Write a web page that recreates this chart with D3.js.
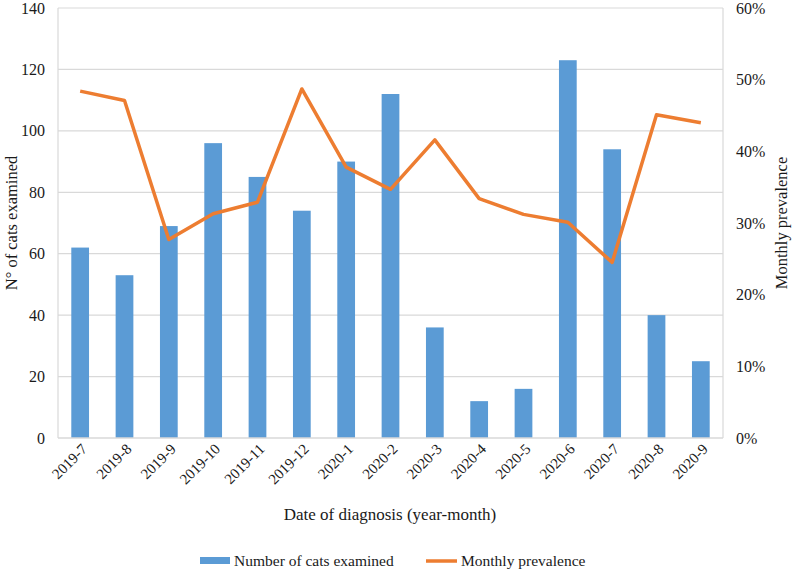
<!DOCTYPE html>
<html><head><meta charset="utf-8">
<script src="https://cdn.jsdelivr.net/npm/d3@7"></script>
<style>body{margin:0;background:#fff}svg{display:block}</style>
</head><body><div id="chart"></div>
<script>
const categories = ["2019-7","2019-8","2019-9","2019-10","2019-11","2019-12","2020-1","2020-2","2020-3","2020-4","2020-5","2020-6","2020-7","2020-8","2020-9"];
const catsExamined = [62,53,69,96,85,74,90,112,36,12,16,123,94,40,25];
const prevalence = [48.4,47.1,27.7,31.3,32.9,48.7,37.8,34.7,41.6,33.4,31.2,30.1,24.5,45.1,44.0];
const leftTicks = [0,20,40,60,80,100,120,140];
const rightTicks = [0,10,20,30,40,50,60];

const FONT = "'Liberation Serif', Tinos, 'Times New Roman', 'DejaVu Serif', serif";
const W = 797, H = 571;
const m = {left: 58, right: 723, top: 8, bottom: 438};
const svg = d3.select("#chart").append("svg").attr("width", W).attr("height", H)
  .attr("font-family", FONT);

const x = d3.scaleBand().domain(categories).range([m.left, m.right]).paddingInner(0.6).paddingOuter(0.3);
const y = d3.scaleLinear().domain([0,140]).range([m.bottom, m.top]);
const y2 = d3.scaleLinear().domain([0,60]).range([m.bottom, m.top]);

svg.append("g").selectAll("line").data(leftTicks.slice(1)).join("line")
  .attr("x1", m.left).attr("x2", m.right).attr("y1", d=>y(d)).attr("y2", d=>y(d))
  .attr("stroke", "#d9d9d9").attr("stroke-width", 1.2);
svg.append("line").attr("x1", m.left).attr("x2", m.left).attr("y1", m.top).attr("y2", m.bottom).attr("stroke","#d9d9d9").attr("stroke-width",1.2);
svg.append("line").attr("x1", m.right).attr("x2", m.right).attr("y1", m.top).attr("y2", m.bottom).attr("stroke","#d9d9d9").attr("stroke-width",1.2);

svg.append("g").selectAll("rect").data(categories).join("rect")
  .attr("x", d=>x(d)).attr("width", x.bandwidth())
  .attr("y", (d,i)=>y(catsExamined[i])).attr("height", (d,i)=>m.bottom - y(catsExamined[i]))
  .attr("fill", "#5b9bd5");

svg.append("line").attr("x1", m.left).attr("x2", m.right).attr("y1", m.bottom).attr("y2", m.bottom).attr("stroke","#d9d9d9").attr("stroke-width",1.5);

const line = d3.line().x((d,i)=>x(categories[i]) + x.bandwidth()/2).y(d=>y2(d));
svg.append("path").datum(prevalence).attr("d", line).attr("fill","none")
  .attr("stroke","#ed7d31").attr("stroke-width",3.5).attr("stroke-linejoin","round");

function styleTicks(g, size){
  g.select(".domain").remove();
  g.attr("font-family", FONT);
  g.selectAll("text").attr("font-size", size).attr("fill","#1a1a1a");
}
const la = svg.append("g").attr("transform", `translate(${m.left},0)`)
  .call(d3.axisLeft(y).tickValues(leftTicks).tickSize(0).tickPadding(13));
styleTicks(la, 16);
const ra = svg.append("g").attr("transform", `translate(${m.right},0)`)
  .call(d3.axisRight(y2).tickValues(rightTicks).tickSize(0).tickPadding(13).tickFormat(d=>d+"%"));
styleTicks(ra, 16);
const ba = svg.append("g").attr("transform", `translate(0,${m.bottom})`)
  .call(d3.axisBottom(x).tickSize(0).tickPadding(0));
styleTicks(ba, 15);
ba.selectAll("text").attr("text-anchor","end").attr("dy", null).attr("y", 0)
  .attr("transform", "translate(8,12) rotate(-45)");

svg.append("text").attr("x", 390).attr("y", 520).attr("text-anchor","middle").attr("font-size",17).attr("fill","#1a1a1a")
  .text("Date of diagnosis (year-month)");
svg.append("text").attr("transform", "translate(17,223) rotate(-90)").attr("text-anchor","middle").attr("font-size",16.5).attr("fill","#1a1a1a")
  .text("N° of cats examined");
svg.append("text").attr("transform", "translate(787,223) rotate(-90)").attr("text-anchor","middle").attr("font-size",16.5).attr("fill","#1a1a1a")
  .text("Monthly prevalence");

const lg = svg.append("g");
lg.append("rect").attr("x",200).attr("y",557).attr("width",30).attr("height",7).attr("fill","#5b9bd5");
lg.append("text").attr("x",234).attr("y",566).attr("font-size",15.5).attr("fill","#1a1a1a").text("Number of cats examined");
lg.append("line").attr("x1",426).attr("x2",457).attr("y1",561).attr("y2",561).attr("stroke","#ed7d31").attr("stroke-width",3.5);
lg.append("text").attr("x",461).attr("y",566).attr("font-size",15.5).attr("fill","#1a1a1a").text("Monthly prevalence");
</script></body></html>
